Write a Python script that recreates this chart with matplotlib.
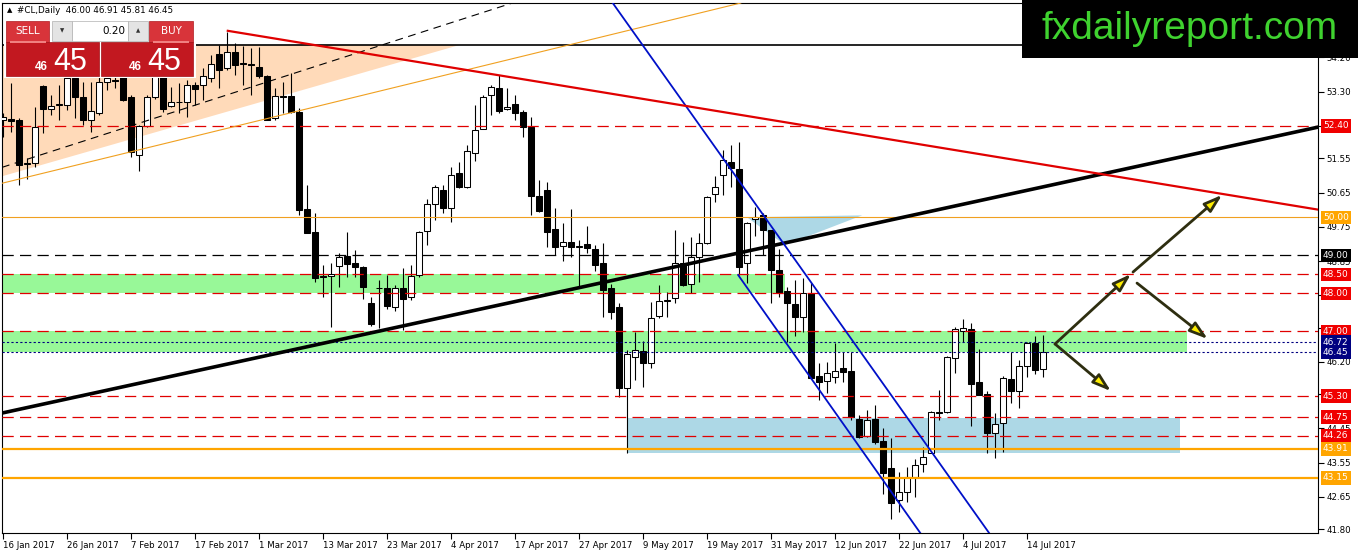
import numpy as np
import matplotlib
matplotlib.use("Agg")
import matplotlib.pyplot as plt
from matplotlib.patches import Rectangle, Polygon
from matplotlib.transforms import blended_transform_factory

plt.rcParams['font.family'] = ['DejaVu Sans']

# daily bars, 16 Jan 2017 .. 18 Jul 2017
opens = [52.55, 52.57, 52.55, 51.40, 51.42, 53.45, 52.84, 52.95, 52.95, 53.66,
         53.16, 52.55, 52.74, 53.55, 53.62, 53.70, 53.16, 51.64, 52.40, 53.16,
         53.70, 52.92, 53.03, 53.03, 53.47, 53.47, 53.66, 54.29, 53.92, 54.34,
         54.05, 54.02, 53.95, 53.70, 52.60, 53.18, 53.18, 52.76, 50.21, 49.61,
         48.46, 48.45, 48.72, 48.98, 48.80, 48.69, 47.74, 48.13, 48.13, 47.64,
         48.13, 47.90, 48.48, 49.63, 50.34, 50.71, 50.24, 51.16, 50.79, 51.69,
         52.32, 53.21, 53.39, 52.84, 52.97, 52.76, 52.37, 50.56, 50.71, 49.69,
         49.24, 49.35, 49.22, 49.30, 49.16, 48.79, 48.13, 47.64, 45.50, 46.33,
         46.48, 46.17, 47.40, 47.80, 47.88, 48.79, 48.24, 48.95, 49.32, 50.61,
         51.11, 51.45, 51.27, 48.79, 49.95, 50.06, 49.66, 48.61, 48.06, 47.72,
         47.38, 48.00, 45.83, 45.69, 45.80, 46.03, 45.96, 44.69, 44.26, 44.69,
         44.12, 43.41, 42.57, 42.78, 43.17, 43.51, 43.81, 44.88, 44.88, 46.30,
         47.01, 47.06, 45.67, 45.36, 44.33, 44.59, 45.75, 45.43, 46.09, 46.69,
         46.00]
highs = [52.75, 53.53, 52.60, 51.55, 52.90, 53.47, 53.21, 53.47, 53.95, 53.80,
         53.55, 53.55, 53.74, 53.74, 53.75, 53.74, 53.21, 52.42, 53.21, 53.80,
         53.74, 53.42, 53.53, 53.61, 53.55, 53.92, 54.26, 54.53, 54.87, 54.58,
         54.50, 54.45, 54.47, 53.74, 53.40, 53.55, 53.80, 52.87, 50.85, 50.11,
         48.74, 48.80, 49.05, 49.61, 49.14, 48.71, 47.90, 48.34, 48.48, 48.21,
         48.66, 48.74, 49.63, 50.48, 50.85, 50.85, 51.32, 51.45, 51.90, 52.95,
         53.21, 53.47, 53.74, 53.39, 53.21, 52.82, 52.63, 50.98, 50.93, 50.24,
         49.85, 50.21, 49.40, 49.77, 49.27, 49.32, 48.24, 47.75, 46.50, 46.98,
         46.74, 47.77, 48.21, 48.03, 49.66, 49.35, 49.48, 49.58, 50.56, 51.08,
         51.77, 51.90, 51.98, 49.87, 50.27, 50.11, 49.66, 49.16, 48.16, 48.34,
         48.40, 48.27, 46.17, 46.19, 46.69, 46.46, 46.46, 44.80, 44.93, 45.07,
         44.45, 44.20, 43.30, 43.43, 43.65, 43.96, 44.90, 45.46, 46.35, 47.11,
         47.32, 47.22, 46.54, 45.43, 44.85, 45.83, 46.46, 46.25, 46.72, 46.87,
         46.91]
lows = [52.10, 52.24, 50.85, 51.00, 51.32, 52.21, 52.69, 52.55, 52.82, 52.60,
        52.42, 52.24, 52.69, 53.34, 53.40, 53.05, 51.59, 51.21, 52.37, 53.10,
        52.76, 52.90, 52.74, 52.63, 52.95, 53.08, 53.55, 53.40, 53.87, 53.74,
        53.47, 53.21, 53.66, 52.55, 52.55, 52.74, 52.74, 50.06, 49.58, 48.30,
        47.90, 47.12, 48.16, 48.42, 48.42, 47.85, 47.15, 47.09, 47.58, 47.53,
        47.03, 47.82, 48.42, 49.27, 49.93, 50.11, 49.87, 50.77, 50.77, 51.48,
        52.32, 52.69, 52.74, 52.82, 52.55, 52.11, 50.06, 50.13, 49.22, 49.00,
        48.85, 48.95, 48.19, 49.06, 48.58, 47.38, 47.33, 45.27, 43.80, 45.72,
        45.55, 46.03, 47.35, 47.38, 47.74, 48.19, 48.00, 48.30, 49.30, 50.40,
        50.58, 50.79, 48.48, 48.27, 49.50, 49.00, 47.75, 47.90, 46.72, 46.87,
        46.98, 45.75, 45.19, 45.38, 45.64, 45.67, 44.67, 44.20, 44.23, 44.04,
        42.72, 42.08, 42.26, 42.51, 42.65, 43.30, 43.80, 44.67, 44.85, 45.90,
        46.72, 44.51, 45.33, 43.80, 43.67, 43.83, 45.12, 45.00, 45.80, 45.88,
        45.81]
closes = [52.63, 52.53, 51.37, 51.42, 52.37, 52.84, 52.92, 52.97, 53.66, 53.16,
          52.55, 52.79, 53.55, 53.66, 53.58, 53.08, 51.72, 52.40, 53.16, 53.70,
          52.84, 53.03, 53.02, 53.47, 53.37, 53.70, 54.02, 53.87, 54.34, 54.00,
          54.02, 53.99, 53.70, 52.55, 53.18, 53.16, 52.76, 50.19, 49.58, 48.40,
          48.44, 48.50, 48.95, 48.77, 48.69, 48.16, 47.19, 48.15, 47.66, 48.13,
          47.85, 48.45, 49.61, 50.34, 50.79, 50.24, 51.11, 50.79, 51.74, 52.29,
          53.16, 53.42, 52.79, 52.90, 52.74, 52.37, 50.56, 50.16, 49.61, 49.22,
          49.35, 49.22, 49.23, 49.19, 48.74, 48.08, 47.51, 45.50, 46.40, 46.50,
          46.17, 47.35, 47.80, 47.82, 48.79, 48.21, 48.95, 49.32, 50.53, 50.79,
          51.50, 51.29, 48.69, 49.85, 50.00, 49.66, 48.61, 48.00, 47.75, 47.38,
          48.00, 45.77, 45.67, 45.90, 45.96, 45.93, 44.75, 44.23, 44.67, 44.10,
          43.28, 42.50, 42.78, 43.17, 43.49, 43.70, 44.88, 44.85, 46.33, 47.06,
          47.09, 45.62, 45.33, 44.33, 44.56, 45.77, 45.43, 46.09, 46.69, 45.98,
          46.45]

date_labels = ["16 Jan 2017", "26 Jan 2017", "7 Feb 2017", "17 Feb 2017", "1 Mar 2017",
               "13 Mar 2017", "23 Mar 2017", "4 Apr 2017", "17 Apr 2017", "27 Apr 2017",
               "9 May 2017", "19 May 2017", "31 May 2017", "12 Jun 2017", "22 Jun 2017",
               "4 Jul 2017", "14 Jul 2017"]
bars_per_label = 8

price_ticks = [54.20, 53.30, 52.40, 51.55, 50.65, 49.75, 48.85, 47.95, 47.10,
               46.20, 45.35, 44.45, 43.55, 42.65, 41.80]
# scale labels that sit fully under a level tag on the reference
hidden_ticks = [52.40, 47.95, 47.10, 45.35]

# drawn levels
red_levels = [52.40, 48.50, 48.00, 47.00, 45.30, 44.75, 44.26]
orange_levels = [43.91, 43.15]
mid_orange_level = 50.00
black_level = 49.00
navy_levels = [46.72, 46.45]
top_level = 54.53

# zones (price low, price high, end bar)
green_lo = [48.00, 46.45]
green_hi = [48.50, 47.00]
green_end = [97.7, 148.0]
blue_box_x = [78.0, 147.1]
blue_box_y = [43.80, 44.72]
peach_tri = [(-0.4, 54.53), (-0.4, 51.06), (57.1, 54.53)]
cyan_tri = [(93.0, 50.00), (107.4, 50.05), (97.75, 49.27)]

# trend lines as two anchor points (bar, price)
red_trend = [(28.1, 54.90), (164.4, 50.20)]
support_trend = [(0.0, 44.86), (164.4, 52.37)]
dash_trend = [(0.0, 51.32), (38.4, 53.92)]
thin_orange_trend = [(0.0, 50.90), (38.4, 52.87)]
channel_top = [(87.5, 52.29), (123.0, 41.78)]
channel_bottom = [(91.9, 48.48), (114.4, 41.78)]

arrow_from = [(131.5, 46.67), (141.25, 48.56), (141.75, 48.27), (131.5, 46.67)]
arrow_to = [(141.0, 48.51), (152.4, 50.59), (150.6, 46.80), (138.5, 45.43)]

W, H = 1358, 554
fig = plt.figure(figsize=(W / 100, H / 100), dpi=100)
ax = fig.add_axes([2 / W, (H - 533) / H, 1316 / W, 530 / H])
ax.set_xlim(-0.125, 164.375)
ax.set_ylim(41.702, 55.631)

# background zones
ax.add_patch(Polygon(peach_tri, closed=True, fc="#ffdab9", ec="none", zorder=1))
for lo, hi, end in zip(green_lo, green_hi, green_end):
    ax.fill_between([-1, end], lo, hi, color="#98f898", lw=0, zorder=1)
ax.add_patch(Rectangle((blue_box_x[0], blue_box_y[0]), blue_box_x[1] - blue_box_x[0],
                       blue_box_y[1] - blue_box_y[0], fc="#add8e6", ec="none", zorder=1))
ax.add_patch(Polygon(cyan_tri, closed=True, fc="#add8e6", ec="none", zorder=1))

# candles
idx = np.arange(len(opens))
o = np.array(opens)
c = np.array(closes)
bull = c >= o
faces = np.where(bull, "white", "black")
body_lo = np.minimum(o, c)
body_h = np.maximum(np.abs(c - o), 0.015)
ax.vlines(idx, lows, highs, color="black", lw=0.8, zorder=2.9)
ax.bar(idx, body_h, width=0.64, bottom=body_lo, color=faces, edgecolor="black",
       linewidth=0.75, zorder=3)

# horizontal levels
dash = (0, (9, 5))
ax.axhline(top_level, color="black", lw=1.2, zorder=4)
for lv in red_levels:
    ax.axhline(lv, color="#e00000", lw=0.9, linestyle=dash, zorder=4)
ax.axhline(black_level, color="black", lw=0.9, linestyle=dash, zorder=4)
ax.axhline(mid_orange_level, color="#f0a020", lw=0.8, zorder=4)
for lv in orange_levels:
    ax.axhline(lv, color="#ffa500", lw=1.6, zorder=4)
for lv in navy_levels:
    ax.axhline(lv, color="#000080", lw=0.8, linestyle=(0, (2, 2)), zorder=4)


def ray_end(pts, x_end):
    (x1, y1), (x2, y2) = pts
    return y1 + (y2 - y1) / (x2 - x1) * (x_end - x1)


ax.axline(dash_trend[0], dash_trend[1], color="black", lw=0.8, linestyle=(0, (7, 5)), zorder=4)
ax.axline(thin_orange_trend[0], thin_orange_trend[1], color="#f0a020", lw=0.8, zorder=4)
ax.axline(support_trend[0], support_trend[1], color="black", lw=2.6, zorder=4)
ax.axline(channel_top[0], channel_top[1], color="#0010c8", lw=1.3, zorder=4)
ax.plot([channel_bottom[0][0], 130], [channel_bottom[0][1], ray_end(channel_bottom, 130)],
        color="#0010c8", lw=1.3, zorder=4)
ax.plot([red_trend[0][0], 170], [red_trend[0][1], ray_end(red_trend, 170)],
        color="#e00000", lw=1.6, zorder=4)

for a, b in zip(arrow_from, arrow_to):
    ax.annotate("", xy=b, xytext=a, zorder=6,
                arrowprops=dict(arrowstyle="-|>,head_length=1.1,head_width=0.35",
                                fc="#ffee00", ec="#2e2e10", lw=2.0, shrinkA=0, shrinkB=0))

# axes look
for s in ax.spines.values():
    s.set_linewidth(0.8)
ax.yaxis.tick_right()
ax.set_yticks(price_ticks)
ax.set_yticklabels(["" if p in hidden_ticks else "%.2f" % p for p in price_ticks])
ax.set_xticks(np.arange(len(date_labels)) * bars_per_label)
ax.set_xticklabels(date_labels, ha="left")
ax.tick_params(axis="y", direction="out", length=4, width=0.8, pad=2, labelsize=6.2)
ax.tick_params(axis="x", direction="out", length=4, width=0.8, pad=2, labelsize=6.2)

# price labels on the axis
tr = blended_transform_factory(ax.transAxes, ax.transData)
label_colors = {}
for lv in red_levels:
    label_colors[lv] = "#f00000"
for lv in orange_levels + [mid_orange_level]:
    label_colors[lv] = "#ffa500"
for lv in navy_levels:
    label_colors[lv] = "#000080"
label_colors[black_level] = "black"
for lv, col in label_colors.items():
    ax.text(1 + 5 / 1316, lv, "%.2f" % lv, transform=tr, color="white", fontsize=6.5,
            ha="left", va="center", clip_on=False, zorder=7,
            bbox=dict(boxstyle="square,pad=0.25", fc=col, ec="none"))


# overlay widgets, placed in figure pixels
def fig_rect(x0, y0, x1, y1, **kw):
    fig.add_artist(Rectangle((x0 / W, 1 - y1 / H), (x1 - x0) / W, (y1 - y0) / H,
                             transform=fig.transFigure, **kw))


def fig_text(x, y, s, **kw):
    fig.text(x / W, 1 - y / H, s, **kw)


fig_text(7, 10.5, "\u25b2", fontsize=5, va="center")
fig_text(17, 10.5, "#CL,Daily  %.2f %.2f %.2f %.2f" % (opens[-1], highs[-1], lows[-1], closes[-1]),
         fontsize=6.3, va="center")

last = "%.2f" % closes[-1]
big, small = last.split(".")[1], last.split(".")[0]
fig_rect(4, 19, 196, 78, fc="white", ec="none", zorder=10)
fig_rect(6, 21, 49, 42, fc="#d8343a", ec="#b01a20", lw=0.5, zorder=11)
fig_rect(149, 21, 193, 42, fc="#d8343a", ec="#b01a20", lw=0.5, zorder=11)
fig_rect(6, 42, 99, 76, fc="#c21820", ec="#a01015", lw=0.5, zorder=11)
fig_rect(101, 42, 193, 76, fc="#c21820", ec="#a01015", lw=0.5, zorder=11)
fig_rect(52, 21, 72, 41, fc="#e4e4e4", ec="#b0b0b0", lw=0.5, zorder=11)
fig_rect(72, 21, 128, 41, fc="white", ec="#b0b0b0", lw=0.5, zorder=11)
fig_rect(128, 21, 148, 41, fc="#e4e4e4", ec="#b0b0b0", lw=0.5, zorder=11)
fig_rect(10, 41.5, 46, 42.5, fc="#f08080", ec="none", zorder=12)
fig_rect(153, 41.5, 189, 42.5, fc="#f08080", ec="none", zorder=12)
fig_text(27.5, 31.5, "SELL", color="white", fontsize=7.5, ha="center", va="center", zorder=13)
fig_text(171, 31.5, "BUY", color="white", fontsize=7.5, ha="center", va="center", zorder=13)
fig_text(62, 31, "\u25bc", fontsize=4, ha="center", va="center", color="#333333", zorder=13)
fig_text(138, 31, "\u25b2", fontsize=4, ha="center", va="center", color="#333333", zorder=13)
fig_text(125, 31, "0.20", fontsize=7.5, ha="right", va="center", zorder=13)
for x_small, x_big in [(35, 53), (129, 147)]:
    fig_text(x_small, 69.5, small, color="white", fontsize=8.5, fontweight="bold",
             family="Liberation Sans", va="baseline", zorder=13)
    fig_text(x_big, 70, big, color="white", fontsize=22, family="Liberation Sans",
             va="baseline", zorder=13)

# site logo
fig_rect(1022, 0, 1358, 58, fc="black", ec="none", zorder=10)
fig_text(1190, 29, "fxdailyreport.com", color="#3fd22f", fontsize=28,
         family="Liberation Sans", ha="center", va="center", zorder=11)

fig.savefig("out.png", dpi=100)
